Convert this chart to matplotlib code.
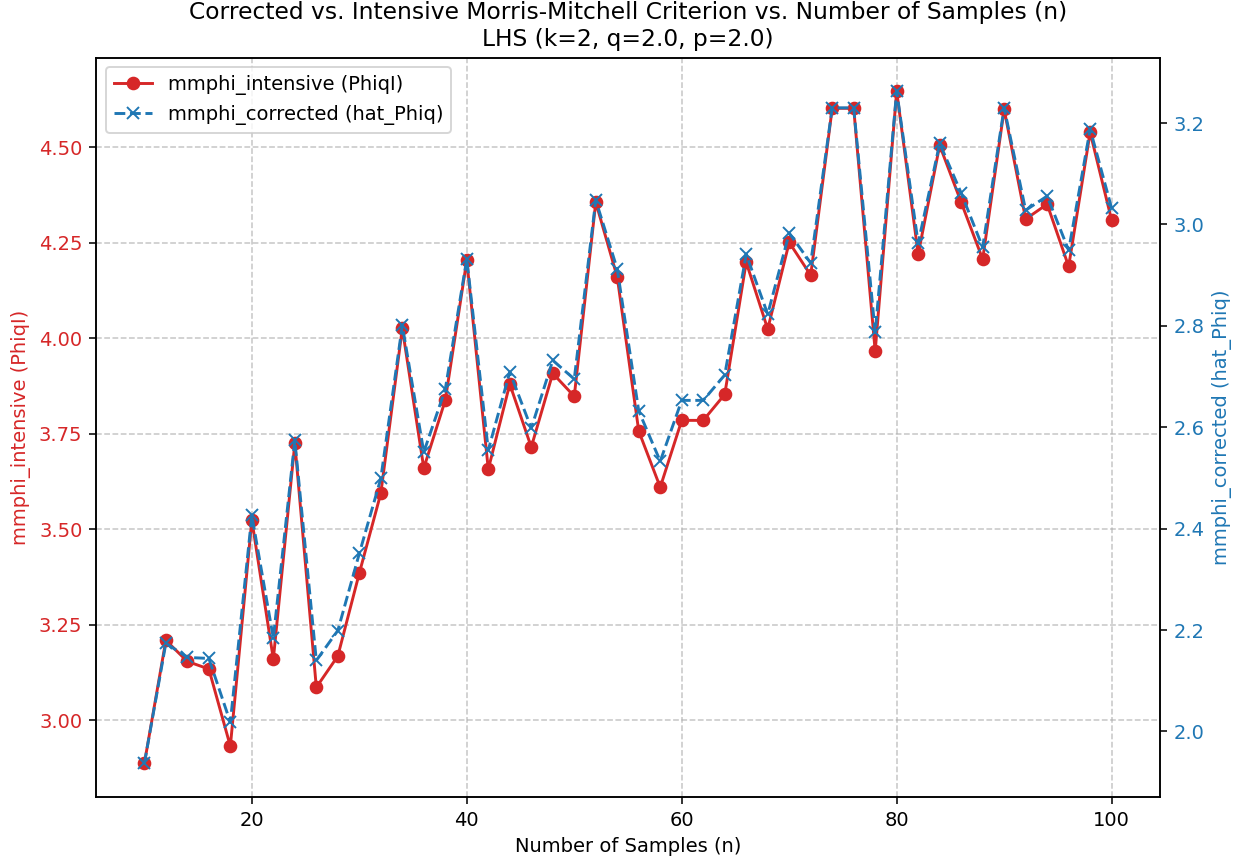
import matplotlib
matplotlib.use("Agg")
import matplotlib.pyplot as plt

n_samples = list(range(10, 101, 2))
mmphi_intensive = [2.887, 3.209, 3.154, 3.134, 2.932, 3.524, 3.160, 3.725, 3.086, 3.168,
                   3.385, 3.594, 4.026, 3.660, 3.838, 4.204, 3.657, 3.880, 3.715, 3.908,
                   3.848, 4.356, 4.160, 3.757, 3.610, 3.785, 3.785, 3.853, 4.199, 4.024,
                   4.251, 4.165, 4.602, 4.602, 3.966, 4.647, 4.220, 4.505, 4.356, 4.207,
                   4.599, 4.312, 4.351, 4.188, 4.539, 4.309]
mmphi_corrected = [1.937, 2.174, 2.146, 2.144, 2.018, 2.426, 2.184, 2.574, 2.140, 2.199,
                   2.351, 2.499, 2.801, 2.551, 2.675, 2.932, 2.555, 2.709, 2.598, 2.732,
                   2.695, 3.048, 2.912, 2.632, 2.533, 2.653, 2.653, 2.703, 2.941, 2.823,
                   2.983, 2.924, 3.230, 3.230, 2.787, 3.263, 2.963, 3.160, 3.062, 2.955,
                   3.230, 3.028, 3.056, 2.949, 3.188, 3.032]

DPI = 140
fig = plt.figure(figsize=(1247 / DPI, 863 / DPI), dpi=DPI)
ax1 = fig.add_axes([96 / 1247, 66 / 863, (1160 - 96) / 1247, (797 - 57.5) / 863])

c1 = 'tab:red'
c2 = 'tab:blue'
l1, = ax1.plot(n_samples, mmphi_intensive, color=c1, marker='o', linestyle='-',
               label='mmphi_intensive (PhiqI)')
ax1.set_xlabel('Number of Samples (n)')
ax1.set_ylabel('mmphi_intensive (PhiqI)', color=c1)
ax1.tick_params(axis='y', labelcolor=c1)
ax1.grid(True, linestyle='--', alpha=0.7)

ax2 = ax1.twinx()
l2, = ax2.plot(n_samples, mmphi_corrected, color=c2, marker='x', linestyle='--',
               label='mmphi_corrected (hat_Phiq)')
ax2.set_ylabel('mmphi_corrected (hat_Phiq)', color=c2)
ax2.tick_params(axis='y', labelcolor=c2)

ax1.legend([l1, l2], [l1.get_label(), l2.get_label()], loc='upper left')
ax1.set_title('Corrected vs. Intensive Morris-Mitchell Criterion vs. Number of Samples (n)\n'
              'LHS (k=2, q=2.0, p=2.0)')

fig.savefig('out.png', dpi=DPI)
